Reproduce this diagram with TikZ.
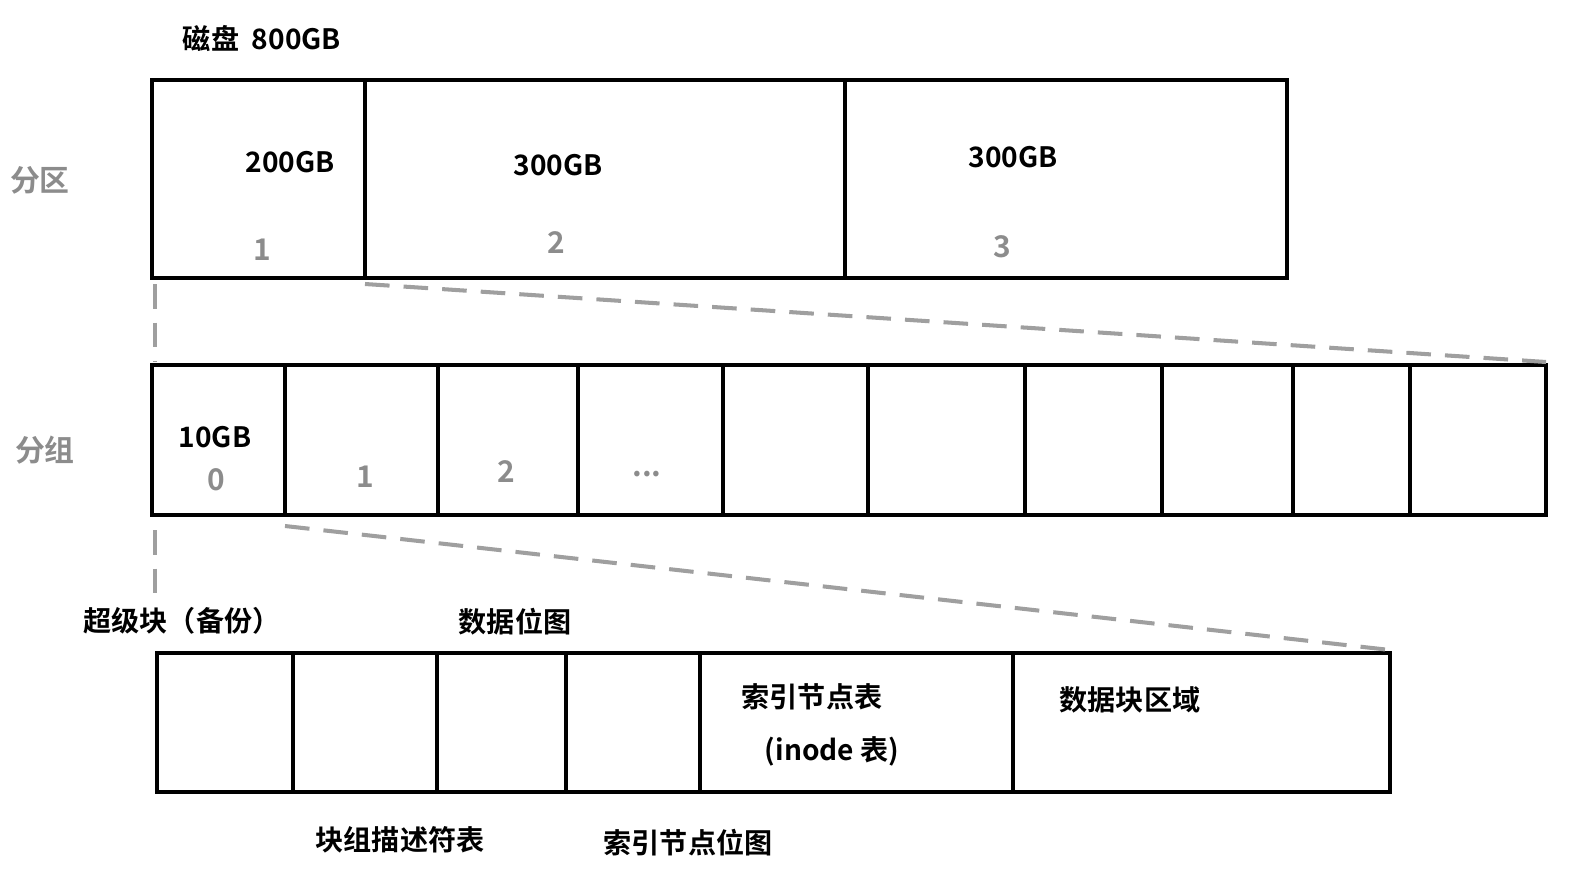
\documentclass[tikz,border=0pt]{standalone}
\usepackage{fontspec}
\setmainfont{Noto Sans CJK SC}[BoldFont={Noto Sans CJK SC Bold}]
\usetikzlibrary{positioning}
\definecolor{labelgray}{HTML}{8C8C8C}
\tikzset{
  cell/.style={draw,line width=2.3pt},
  zoom/.style={draw=gray!75,line width=2.3pt,dash pattern=on 14pt off 8pt},
  txt/.style={font=\fontsize{16}{18}\selectfont\bfseries},
  num/.style={font=\fontsize{17}{19}\selectfont\bfseries,text=labelgray},
}
\begin{document}
\begin{tikzpicture}[x=0.02cm,y=-0.02cm]
  \useasboundingbox (0,0) rectangle (1574,875);
  % disk partitions
  \foreach \a/\b in {152/365,365/845,845/1287} {
    \draw[cell] (\a,80) rectangle (\b,278);
  }
  \node[txt] (disk) at (262,38) {磁盘\ \ 800GB};
  \node[num] (part) at (40,180) {分区};
  \node[txt] (p1) at (290,162) {200GB};
  \node[txt] (p2) at (558,165) {300GB};
  \node[txt] (p3) at (1013,157) {300GB};
  \foreach \v/\x/\y in {1/262/250,2/556/243,3/1002/247} {
    \node[num] (n\v) at (\x,\y) {\v};
  }

  % block groups
  \foreach \a/\b in {152/285,285/438,438/578,578/723,723/868,868/1025,1025/1162,1162/1293,1293/1410,1410/1546} {
    \draw[cell] (\a,365) rectangle (\b,515);
  }
  \node[num] (grp) at (45,450) {分组};
  \node[txt] (g0) at (215,437) {10GB};
  \foreach \v/\x/\y in {0/216/480,1/365/477,2/506/472} {
    \node[num] (m\v) at (\x,\y) {\v};
  }
  \node[num] (mdots) at (647,474) {...};

  % one group
  \foreach \a/\b in {157/293,293/437,437/566,566/700,700/1013,1013/1390} {
    \draw[cell] (\a,653) rectangle (\b,792);
  }
  \node[txt] (sb) at (182,621) {超级块（备份）};
  \node[txt] (dbm) at (515,622) {数据位图};
  \node[txt] (itab) at (812,697) {索引节点表};
  \node[txt] (itab2) at (832,751) {(inode 表)};
  \node[txt] (data) at (1130,700) {数据块区域};
  \node[txt] (gdt) at (400,840) {块组描述符表};
  \node[txt] (ibm) at (688,843) {索引节点位图};

  % zoom lines
  \coordinate (z1a) at (155,284);
  \coordinate (z1b) at (155,362);
  \coordinate (z1c) at (365,284);
  \coordinate (z1d) at (1546,362);
  \coordinate (z2a) at (155,530);
  \coordinate (z2b) at (155,600);
  \coordinate (z2c) at (285,526);
  \coordinate (z2d) at (1390,650);
  \draw[zoom] (z1a) -- (z1b);
  \draw[zoom] (z1c) -- (z1d);
  \draw[zoom] (z2a) -- (z2b);
  \draw[zoom] (z2c) -- (z2d);
\end{tikzpicture}
\end{document}
